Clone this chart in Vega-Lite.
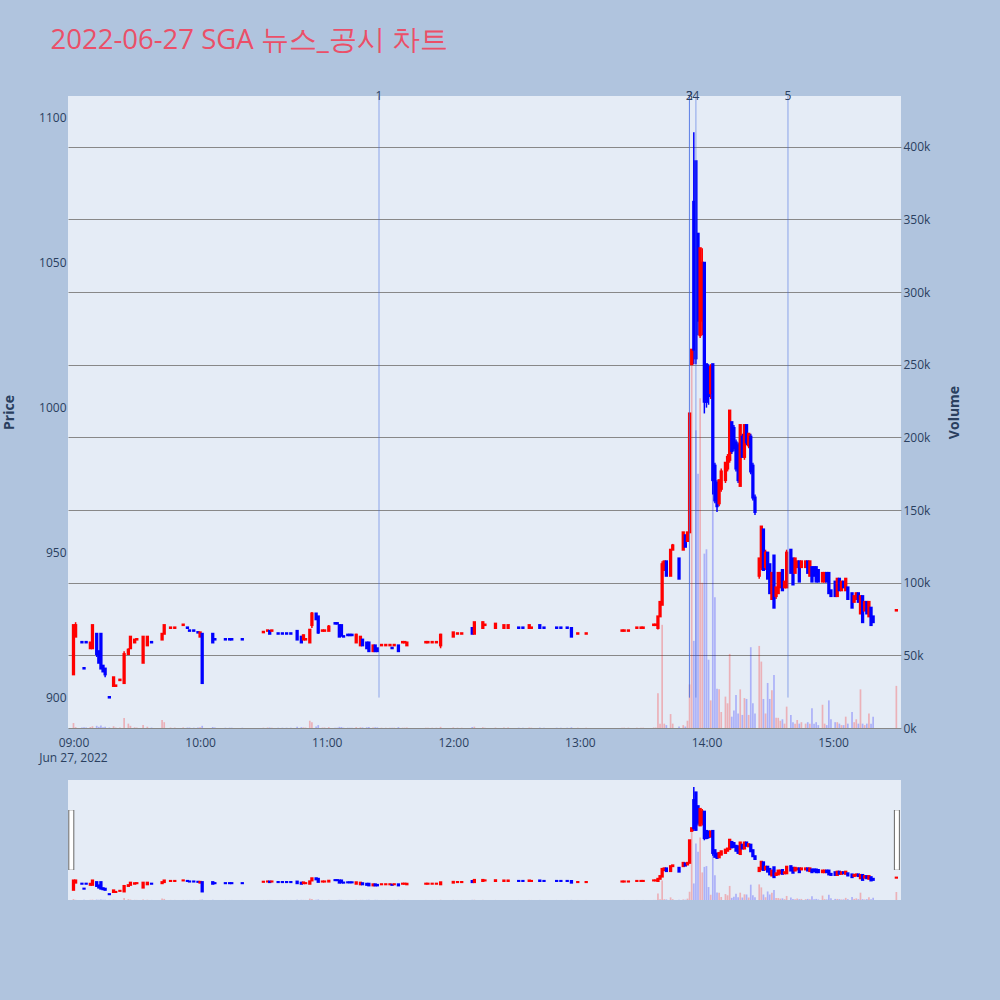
{
"$schema":"https://vega.github.io/schema/vega-lite/v6.json",
"background":"#B0C4DE",
"padding":{"left":2,"top":27,"right":60,"bottom":110},
"title":{"text":"2022-06-27 SGA 뉴스_공시 차트","anchor":"start","font":"Open Sans","fontSize":27.5,"fontWeight":"normal","color":"#EB4F68","offset":35.5,"dx":48},
"config":{"font":"Open Sans","view":{"fill":"#E5ECF6","stroke":null},"text":{"font":"Open Sans"},"axis":{"labelFont":"Open Sans","titleFont":"Open Sans","labelFontSize":12,"labelColor":"#2a3f5f","titleFontSize":14,"titleColor":"#2a3f5f","titleFontWeight":"bold","ticks":false,"domain":false}},
"datasets":{
"candles":[
{"t":"2022-06-27T09:00","o":908,"h":925,"l":908,"c":925,"v":3400},
{"t":"2022-06-27T09:01","o":921,"h":926,"l":921,"c":925,"v":600},
{"t":"2022-06-27T09:04","o":919.2,"h":919.2,"l":919,"c":919,"v":300},
{"t":"2022-06-27T09:05","o":910.2,"h":910.2,"l":910,"c":910,"v":500},
{"t":"2022-06-27T09:06","o":919.2,"h":919.2,"l":919,"c":919,"v":400},
{"t":"2022-06-27T09:08","o":917,"h":919,"l":917,"c":919,"v":700},
{"t":"2022-06-27T09:09","o":917,"h":925,"l":917,"c":925,"v":1200},
{"t":"2022-06-27T09:11","o":922,"h":922,"l":914,"c":915,"v":1500},
{"t":"2022-06-27T09:12","o":916,"h":916,"l":912,"c":912,"v":800},
{"t":"2022-06-27T09:13","o":922,"h":922,"l":910,"c":910,"v":1800},
{"t":"2022-06-27T09:14","o":911,"h":911,"l":909,"c":909,"v":600},
{"t":"2022-06-27T09:15","o":910,"h":910,"l":907,"c":908,"v":900},
{"t":"2022-06-27T09:17","o":900.2,"h":900.2,"l":900,"c":900,"v":300},
{"t":"2022-06-27T09:19","o":904,"h":907,"l":904,"c":907,"v":1200},
{"t":"2022-06-27T09:20","o":904,"h":904.2,"l":904,"c":904.2,"v":300},
{"t":"2022-06-27T09:22","o":906,"h":906.2,"l":906,"c":906.2,"v":400},
{"t":"2022-06-27T09:24","o":905,"h":916,"l":905,"c":915,"v":6900},
{"t":"2022-06-27T09:26","o":915,"h":917,"l":915,"c":916.5,"v":3000},
{"t":"2022-06-27T09:27","o":917,"h":921,"l":917,"c":921,"v":1500},
{"t":"2022-06-27T09:29","o":919,"h":920,"l":919,"c":920,"v":500},
{"t":"2022-06-27T09:30","o":920,"h":920.2,"l":920,"c":920.2,"v":300},
{"t":"2022-06-27T09:33","o":912,"h":921,"l":912,"c":921,"v":2000},
{"t":"2022-06-27T09:35","o":918,"h":921,"l":918,"c":921,"v":900},
{"t":"2022-06-27T09:37","o":919.2,"h":919.2,"l":919,"c":919,"v":300},
{"t":"2022-06-27T09:42","o":920,"h":922,"l":920,"c":922,"v":5500},
{"t":"2022-06-27T09:43","o":922,"h":925,"l":922,"c":925,"v":4000},
{"t":"2022-06-27T09:46","o":924,"h":924.2,"l":924,"c":924.2,"v":300},
{"t":"2022-06-27T09:48","o":924,"h":924.2,"l":924,"c":924.2,"v":300},
{"t":"2022-06-27T09:52","o":925,"h":925.2,"l":925,"c":925.2,"v":400},
{"t":"2022-06-27T09:54","o":924.2,"h":924.2,"l":924,"c":924,"v":300},
{"t":"2022-06-27T09:55","o":923.2,"h":923.2,"l":923,"c":923,"v":300},
{"t":"2022-06-27T09:57","o":923.2,"h":923.2,"l":923,"c":923,"v":200},
{"t":"2022-06-27T09:59","o":922.6,"h":922.6,"l":922.4,"c":922.4,"v":300},
{"t":"2022-06-27T10:00","o":921,"h":922.5,"l":921,"c":922.5,"v":500},
{"t":"2022-06-27T10:01","o":922,"h":922,"l":905,"c":905,"v":1500},
{"t":"2022-06-27T10:06","o":922,"h":922,"l":919,"c":919,"v":700},
{"t":"2022-06-27T10:07","o":920.2,"h":920.2,"l":920,"c":920,"v":300},
{"t":"2022-06-27T10:12","o":920.2,"h":920.2,"l":920,"c":920,"v":200},
{"t":"2022-06-27T10:14","o":920.2,"h":920.2,"l":920,"c":920,"v":200},
{"t":"2022-06-27T10:15","o":920.2,"h":920.2,"l":920,"c":920,"v":200},
{"t":"2022-06-27T10:20","o":920.2,"h":920.2,"l":920,"c":920,"v":200},
{"t":"2022-06-27T10:30","o":922.5,"h":922.7,"l":922.5,"c":922.7,"v":200},
{"t":"2022-06-27T10:32","o":923,"h":923.2,"l":923,"c":923.2,"v":300},
{"t":"2022-06-27T10:33","o":923,"h":923,"l":922,"c":922,"v":300},
{"t":"2022-06-27T10:34","o":923,"h":923.2,"l":923,"c":923.2,"v":200},
{"t":"2022-06-27T10:37","o":922.2,"h":922.2,"l":922,"c":922,"v":200},
{"t":"2022-06-27T10:39","o":922.2,"h":922.2,"l":922,"c":922,"v":200},
{"t":"2022-06-27T10:41","o":922.2,"h":922.2,"l":922,"c":922,"v":200},
{"t":"2022-06-27T10:43","o":922.2,"h":922.2,"l":922,"c":922,"v":200},
{"t":"2022-06-27T10:46","o":923,"h":923,"l":920,"c":920,"v":800},
{"t":"2022-06-27T10:48","o":921,"h":921,"l":919,"c":919,"v":600},
{"t":"2022-06-27T10:49","o":920,"h":921.7,"l":920,"c":921.5,"v":400},
{"t":"2022-06-27T10:50","o":920,"h":920.2,"l":920,"c":920.2,"v":300},
{"t":"2022-06-27T10:52","o":919,"h":923.4,"l":919,"c":923.4,"v":5000},
{"t":"2022-06-27T10:53","o":925,"h":929.5,"l":924,"c":929,"v":4000},
{"t":"2022-06-27T10:55","o":929,"h":929,"l":927,"c":927,"v":1000},
{"t":"2022-06-27T10:56","o":928,"h":928,"l":922,"c":922.4,"v":2000},
{"t":"2022-06-27T10:58","o":923,"h":923.2,"l":923,"c":923.2,"v":300},
{"t":"2022-06-27T10:59","o":923,"h":923.2,"l":923,"c":923.2,"v":300},
{"t":"2022-06-27T11:01","o":923,"h":925,"l":923,"c":924.5,"v":600},
{"t":"2022-06-27T11:04","o":925.7,"h":925.7,"l":925.5,"c":925.5,"v":200},
{"t":"2022-06-27T11:05","o":925.7,"h":925.7,"l":925.5,"c":925.5,"v":200},
{"t":"2022-06-27T11:06","o":925,"h":925,"l":921,"c":921,"v":800},
{"t":"2022-06-27T11:07","o":925,"h":925,"l":921,"c":921.5,"v":700},
{"t":"2022-06-27T11:08","o":921.2,"h":921.2,"l":921,"c":921,"v":200},
{"t":"2022-06-27T11:10","o":921.7,"h":921.7,"l":921.5,"c":921.5,"v":200},
{"t":"2022-06-27T11:11","o":921.7,"h":921.7,"l":921.5,"c":921.5,"v":200},
{"t":"2022-06-27T11:12","o":921.7,"h":921.7,"l":921.5,"c":921.5,"v":200},
{"t":"2022-06-27T11:14","o":919,"h":922,"l":919,"c":921.7,"v":600},
{"t":"2022-06-27T11:16","o":918,"h":921,"l":918,"c":921,"v":500},
{"t":"2022-06-27T11:17","o":920,"h":920,"l":918,"c":918,"v":400},
{"t":"2022-06-27T11:19","o":919,"h":919,"l":917,"c":917,"v":500},
{"t":"2022-06-27T11:20","o":919,"h":919,"l":916,"c":916,"v":700},
{"t":"2022-06-27T11:22","o":916,"h":918,"l":916,"c":918,"v":400},
{"t":"2022-06-27T11:23","o":918,"h":918,"l":916,"c":916,"v":500},
{"t":"2022-06-27T11:24","o":917,"h":917,"l":916,"c":916,"v":400},
{"t":"2022-06-27T11:26","o":918,"h":918.2,"l":918,"c":918.2,"v":200},
{"t":"2022-06-27T11:28","o":918,"h":918.2,"l":918,"c":918.2,"v":200},
{"t":"2022-06-27T11:30","o":918,"h":918.2,"l":918,"c":918.2,"v":200},
{"t":"2022-06-27T11:31","o":917.2,"h":917.2,"l":917,"c":917,"v":200},
{"t":"2022-06-27T11:32","o":918,"h":918.2,"l":918,"c":918.2,"v":200},
{"t":"2022-06-27T11:34","o":918,"h":918,"l":916,"c":916,"v":600},
{"t":"2022-06-27T11:36","o":919,"h":919.2,"l":919,"c":919.2,"v":200},
{"t":"2022-06-27T11:37","o":919,"h":919.2,"l":919,"c":919.2,"v":200},
{"t":"2022-06-27T11:38","o":918,"h":919,"l":918,"c":919,"v":300},
{"t":"2022-06-27T11:47","o":919,"h":919.2,"l":919,"c":919.2,"v":200},
{"t":"2022-06-27T11:48","o":919,"h":919.2,"l":919,"c":919.2,"v":200},
{"t":"2022-06-27T11:50","o":919,"h":919.2,"l":919,"c":919.2,"v":200},
{"t":"2022-06-27T11:52","o":919,"h":919.2,"l":919,"c":919.2,"v":200},
{"t":"2022-06-27T11:54","o":918,"h":922,"l":917,"c":921.7,"v":800},
{"t":"2022-06-27T12:00","o":921,"h":922.5,"l":921,"c":922.5,"v":400},
{"t":"2022-06-27T12:02","o":922,"h":922.2,"l":922,"c":922.2,"v":200},
{"t":"2022-06-27T12:04","o":922,"h":922.2,"l":922,"c":922.2,"v":200},
{"t":"2022-06-27T12:09","o":924,"h":924,"l":922,"c":922,"v":700},
{"t":"2022-06-27T12:10","o":922,"h":926,"l":922,"c":926,"v":900},
{"t":"2022-06-27T12:14","o":924,"h":926.2,"l":924,"c":926,"v":500},
{"t":"2022-06-27T12:15","o":925,"h":925.2,"l":925,"c":925.2,"v":200},
{"t":"2022-06-27T12:20","o":924,"h":925.5,"l":924,"c":925.5,"v":300},
{"t":"2022-06-27T12:24","o":924,"h":925,"l":924,"c":925,"v":300},
{"t":"2022-06-27T12:26","o":924,"h":925,"l":924,"c":925,"v":300},
{"t":"2022-06-27T12:31","o":924.2,"h":924.2,"l":924,"c":924,"v":200},
{"t":"2022-06-27T12:33","o":924.2,"h":924.2,"l":924,"c":924,"v":200},
{"t":"2022-06-27T12:36","o":924,"h":925,"l":924,"c":925,"v":300},
{"t":"2022-06-27T12:37","o":924,"h":924.2,"l":924,"c":924.2,"v":200},
{"t":"2022-06-27T12:41","o":925,"h":925,"l":924,"c":924,"v":300},
{"t":"2022-06-27T12:43","o":924.2,"h":924.2,"l":924,"c":924,"v":200},
{"t":"2022-06-27T12:49","o":924.2,"h":924.2,"l":924,"c":924,"v":200},
{"t":"2022-06-27T12:51","o":924.2,"h":924.2,"l":924,"c":924,"v":200},
{"t":"2022-06-27T12:54","o":924.2,"h":924.2,"l":924,"c":924,"v":200},
{"t":"2022-06-27T12:56","o":924,"h":924,"l":921,"c":921,"v":500},
{"t":"2022-06-27T12:59","o":922,"h":922.2,"l":922,"c":922.2,"v":200},
{"t":"2022-06-27T13:03","o":922,"h":922.2,"l":922,"c":922.2,"v":200},
{"t":"2022-06-27T13:20","o":923,"h":923.2,"l":923,"c":923.2,"v":200},
{"t":"2022-06-27T13:21","o":923,"h":923.2,"l":923,"c":923.2,"v":200},
{"t":"2022-06-27T13:23","o":923,"h":923.2,"l":923,"c":923.2,"v":200},
{"t":"2022-06-27T13:27","o":924,"h":924.2,"l":924,"c":924.2,"v":200},
{"t":"2022-06-27T13:29","o":924,"h":924.2,"l":924,"c":924.2,"v":200},
{"t":"2022-06-27T13:30","o":924,"h":924.2,"l":924,"c":924.2,"v":200},
{"t":"2022-06-27T13:35","o":925,"h":925.2,"l":925,"c":925.2,"v":300},
{"t":"2022-06-27T13:36","o":925,"h":925.2,"l":925,"c":925.2,"v":300},
{"t":"2022-06-27T13:37","o":924,"h":928,"l":923.5,"c":928,"v":24000},
{"t":"2022-06-27T13:38","o":928,"h":933,"l":928,"c":933,"v":3000},
{"t":"2022-06-27T13:39","o":932,"h":947,"l":932,"c":946,"v":71000},
{"t":"2022-06-27T13:40","o":944,"h":947,"l":944,"c":947,"v":3000},
{"t":"2022-06-27T13:41","o":947,"h":947,"l":942,"c":942,"v":2000},
{"t":"2022-06-27T13:43","o":942,"h":951,"l":942,"c":951,"v":9600},
{"t":"2022-06-27T13:44","o":951,"h":953,"l":951,"c":952.5,"v":3000},
{"t":"2022-06-27T13:47","o":948,"h":948,"l":941,"c":941,"v":1000},
{"t":"2022-06-27T13:49","o":951,"h":957,"l":951,"c":957,"v":2000},
{"t":"2022-06-27T13:50","o":956,"h":956,"l":952,"c":952,"v":1000},
{"t":"2022-06-27T13:51","o":954,"h":957,"l":954,"c":957,"v":5000},
{"t":"2022-06-27T13:52","o":957,"h":998,"l":957,"c":998,"v":30000},
{"t":"2022-06-27T13:53","o":1015,"h":1020,"l":1015,"c":1020,"v":252000},
{"t":"2022-06-27T13:54","o":1071,"h":1095,"l":1015,"c":1020,"v":60000},
{"t":"2022-06-27T13:55","o":1085,"h":1085,"l":1015,"c":1017,"v":205000},
{"t":"2022-06-27T13:56","o":1060,"h":1060,"l":1025,"c":1030,"v":175000},
{"t":"2022-06-27T13:57","o":1025,"h":1055,"l":1024,"c":1055,"v":227000},
{"t":"2022-06-27T13:58","o":1030,"h":1055,"l":1025,"c":1050,"v":100000},
{"t":"2022-06-27T13:59","o":1050,"h":1050,"l":998,"c":1002,"v":120000},
{"t":"2022-06-27T14:00","o":1015,"h":1015,"l":1000,"c":1002,"v":123000},
{"t":"2022-06-27T14:01","o":1014,"h":1015,"l":1001,"c":1004,"v":47000},
{"t":"2022-06-27T14:02","o":1005,"h":1015,"l":1003,"c":1014,"v":19000},
{"t":"2022-06-27T14:03","o":1015,"h":1015,"l":970,"c":975,"v":180000},
{"t":"2022-06-27T14:04","o":980,"h":981,"l":967,"c":968,"v":90000},
{"t":"2022-06-27T14:05","o":974,"h":975,"l":964,"c":966,"v":27000},
{"t":"2022-06-27T14:06","o":967,"h":975,"l":966,"c":975,"v":26600},
{"t":"2022-06-27T14:07","o":972,"h":979,"l":971,"c":978,"v":11000},
{"t":"2022-06-27T14:09","o":975,"h":981,"l":974,"c":981,"v":21600},
{"t":"2022-06-27T14:10","o":979,"h":984,"l":978,"c":983,"v":17000},
{"t":"2022-06-27T14:11","o":982,"h":999,"l":981,"c":999,"v":51000},
{"t":"2022-06-27T14:12","o":995,"h":995,"l":984,"c":985,"v":7800},
{"t":"2022-06-27T14:13","o":993,"h":994,"l":985,"c":986,"v":12000},
{"t":"2022-06-27T14:14","o":988,"h":989,"l":978,"c":979,"v":22700},
{"t":"2022-06-27T14:15","o":987,"h":988,"l":974,"c":975,"v":10000},
{"t":"2022-06-27T14:16","o":973,"h":994,"l":973,"c":994,"v":26600},
{"t":"2022-06-27T14:17","o":990,"h":991,"l":983,"c":983,"v":9000},
{"t":"2022-06-27T14:18","o":983,"h":994,"l":982,"c":994,"v":20600},
{"t":"2022-06-27T14:19","o":994,"h":994,"l":987,"c":988,"v":20000},
{"t":"2022-06-27T14:20","o":987,"h":991,"l":986,"c":991,"v":9000},
{"t":"2022-06-27T14:21","o":990,"h":991,"l":977,"c":978,"v":55600},
{"t":"2022-06-27T14:22","o":980,"h":981,"l":968,"c":969,"v":17000},
{"t":"2022-06-27T14:23","o":969,"h":970,"l":963,"c":964,"v":10000},
{"t":"2022-06-27T14:25","o":942,"h":948,"l":941,"c":948,"v":56500},
{"t":"2022-06-27T14:26","o":945,"h":959,"l":944,"c":959,"v":45700},
{"t":"2022-06-27T14:27","o":958,"h":958,"l":944,"c":944,"v":20000},
{"t":"2022-06-27T14:28","o":945,"h":951,"l":944,"c":950,"v":10000},
{"t":"2022-06-27T14:29","o":950,"h":950,"l":941,"c":941,"v":31000},
{"t":"2022-06-27T14:30","o":946,"h":946,"l":936,"c":936,"v":20000},
{"t":"2022-06-27T14:31","o":934,"h":943,"l":934,"c":943,"v":26000},
{"t":"2022-06-27T14:32","o":949,"h":949,"l":931,"c":931,"v":36500},
{"t":"2022-06-27T14:33","o":935,"h":938,"l":934,"c":938,"v":7000},
{"t":"2022-06-27T14:34","o":936,"h":943,"l":936,"c":943,"v":7000},
{"t":"2022-06-27T14:35","o":938,"h":943,"l":938,"c":943,"v":5000},
{"t":"2022-06-27T14:36","o":944,"h":944,"l":937,"c":937,"v":6000},
{"t":"2022-06-27T14:37","o":938,"h":940,"l":938,"c":940,"v":3000},
{"t":"2022-06-27T14:38","o":938,"h":951,"l":938,"c":950,"v":14700},
{"t":"2022-06-27T14:40","o":951,"h":951,"l":943,"c":943,"v":9000},
{"t":"2022-06-27T14:41","o":948,"h":948,"l":939,"c":939,"v":4000},
{"t":"2022-06-27T14:42","o":943,"h":948,"l":943,"c":948,"v":3000},
{"t":"2022-06-27T14:43","o":945,"h":947,"l":945,"c":947,"v":5500},
{"t":"2022-06-27T14:44","o":947,"h":947,"l":940,"c":940,"v":3000},
{"t":"2022-06-27T14:45","o":945,"h":947,"l":945,"c":947,"v":4000},
{"t":"2022-06-27T14:47","o":945,"h":947,"l":945,"c":947,"v":3000},
{"t":"2022-06-27T14:48","o":947,"h":947,"l":943,"c":943,"v":4000},
{"t":"2022-06-27T14:49","o":942,"h":947,"l":942,"c":947,"v":3000},
{"t":"2022-06-27T14:50","o":945,"h":945,"l":940,"c":940,"v":13600},
{"t":"2022-06-27T14:51","o":945,"h":945,"l":942,"c":942,"v":3000},
{"t":"2022-06-27T14:52","o":945,"h":945,"l":940,"c":940,"v":4000},
{"t":"2022-06-27T14:53","o":944,"h":944,"l":940,"c":940,"v":2000},
{"t":"2022-06-27T14:55","o":940,"h":943,"l":940,"c":943,"v":16000},
{"t":"2022-06-27T14:56","o":940,"h":943,"l":940,"c":943,"v":3000},
{"t":"2022-06-27T14:57","o":943,"h":943,"l":940,"c":940,"v":2000},
{"t":"2022-06-27T14:58","o":943,"h":943,"l":936,"c":936,"v":19000},
{"t":"2022-06-27T14:59","o":937,"h":937,"l":935,"c":935,"v":6000},
{"t":"2022-06-27T15:01","o":940,"h":940,"l":935,"c":935,"v":4000},
{"t":"2022-06-27T15:02","o":935,"h":941,"l":935,"c":941,"v":4000},
{"t":"2022-06-27T15:03","o":941,"h":941,"l":937,"c":937,"v":3000},
{"t":"2022-06-27T15:04","o":937,"h":940,"l":937,"c":940,"v":2000},
{"t":"2022-06-27T15:05","o":940,"h":940,"l":938,"c":938,"v":2000},
{"t":"2022-06-27T15:06","o":937,"h":941,"l":937,"c":941,"v":7800},
{"t":"2022-06-27T15:07","o":938,"h":938,"l":934,"c":934,"v":3000},
{"t":"2022-06-27T15:09","o":936,"h":936,"l":931,"c":931,"v":11000},
{"t":"2022-06-27T15:10","o":933,"h":935,"l":933,"c":935,"v":4000},
{"t":"2022-06-27T15:11","o":934,"h":936,"l":934,"c":936,"v":6000},
{"t":"2022-06-27T15:12","o":936,"h":936,"l":933,"c":933,"v":3000},
{"t":"2022-06-27T15:13","o":929,"h":935,"l":929,"c":935,"v":26600},
{"t":"2022-06-27T15:14","o":935,"h":935,"l":926,"c":926,"v":3000},
{"t":"2022-06-27T15:15","o":930,"h":933,"l":930,"c":933,"v":2000},
{"t":"2022-06-27T15:16","o":933,"h":933,"l":929,"c":929,"v":3000},
{"t":"2022-06-27T15:17","o":928,"h":933,"l":928,"c":933,"v":10000},
{"t":"2022-06-27T15:18","o":931,"h":931,"l":925,"c":925,"v":3000},
{"t":"2022-06-27T15:19","o":928,"h":928,"l":926,"c":926,"v":7800},
{"t":"2022-06-27T15:30","o":930,"h":930.2,"l":930,"c":930.2,"v":29000}
],
"events":[
{"t":"2022-06-27T11:24:48","label":"1"},
{"t":"2022-06-27T13:51:56","label":"2"},
{"t":"2022-06-27T13:51:56","label":"3"},
{"t":"2022-06-27T13:55:00","label":"4"},
{"t":"2022-06-27T14:38:38","label":"5"}
],
"datelabel":[{"t":"2022-06-27T09:00","label":"Jun 27, 2022"}],
"handles":[{"t":"2022-06-27T08:58:58"},{"t":"2022-06-27T15:30:15"}]
},
"vconcat":[
{
"width":833,"height":632,
"data":{"name":"candles"},
"layer":[
{"mark":{"type":"bar","size":1.7,"opacity":0.25},
"encoding":{
"x":{"field":"t","type":"temporal","scale":{"nice":false,"padding":0,"domain":[{"year":2022,"month":6,"date":27,"hours":8,"minutes":57,"seconds":24},{"year":2022,"month":6,"date":27,"hours":15,"minutes":32,"seconds":12}]},
"axis":{"title":null,"grid":false,"format":"%H:%M","tickCount":7,"labelPadding":9,"labelFlush":false}},
"y":{"field":"v","type":"quantitative","scale":{"domain":[0,435000],"nice":false},
"axis":{"orient":"right","title":"Volume","values":[0,50000,100000,150000,200000,250000,300000,350000,400000],"format":"~s","gridColor":"#888888","gridWidth":1.2,"labelPadding":2,"titlePadding":32,"titleAngle":270}},
"color":{"condition":{"test":"datum.c >= datum.o","value":"#FF0000"},"value":"#0000FF"}
}},
{"layer":[
{"mark":{"type":"rule","strokeWidth":1.5},
"encoding":{
"x":{"field":"t","type":"temporal"},
"y":{"field":"l","type":"quantitative","scale":{"domain":[889.5,1107.5],"nice":false,"zero":false},
"axis":{"title":"Price","values":[900,950,1000,1050,1100],"format":"d","gridColor":"#FFFFFF","gridWidth":1,"labelPadding":2,"titlePadding":22}},
"y2":{"field":"h"},
"color":{"condition":{"test":"datum.c >= datum.o","value":"#FF0000"},"value":"#0000FF"}
}},
{"mark":{"type":"bar","size":1.3,"strokeWidth":2},
"encoding":{
"x":{"field":"t","type":"temporal"},
"y":{"field":"o","type":"quantitative"},
"y2":{"field":"c"},
"color":{"condition":{"test":"datum.c >= datum.o","value":"#FF0000"},"value":"#0000FF"},
"stroke":{"condition":{"test":"datum.c >= datum.o","value":"#FF0000"},"value":"#0000FF"}
}},
{"data":{"name":"events"},
"mark":{"type":"rule","color":"royalblue","opacity":0.55,"strokeWidth":1},
"encoding":{"x":{"field":"t","type":"temporal"},"y":{"datum":900},"y2":{"datum":1107.5}}},
{"data":{"name":"events"},
"mark":{"type":"text","baseline":"middle","fontSize":12,"color":"#2a3f5f"},
"encoding":{"x":{"field":"t","type":"temporal"},"y":{"datum":1107.5},"text":{"field":"label"}}},
{"data":{"name":"datelabel"},
"mark":{"type":"text","baseline":"middle","fontSize":12,"color":"#2a3f5f","dy":30},
"encoding":{"x":{"field":"t","type":"temporal"},"y":{"datum":889.5},"text":{"field":"label"}}}
]}
],
"resolve":{"scale":{"y":"independent"}}
},
{
"width":833,"height":120,
"data":{"name":"candles"},
"layer":[
{"mark":{"type":"bar","size":1.7,"opacity":0.25},
"encoding":{
"x":{"field":"t","type":"temporal","scale":{"nice":false,"padding":0,"domain":[{"year":2022,"month":6,"date":27,"hours":8,"minutes":57,"seconds":24},{"year":2022,"month":6,"date":27,"hours":15,"minutes":32,"seconds":12}]},"axis":null},
"y":{"field":"v","type":"quantitative","scale":{"domain":[0,435000],"nice":false},"axis":null},
"color":{"condition":{"test":"datum.c >= datum.o","value":"#FF0000"},"value":"#0000FF"}
}},
{"layer":[
{"mark":{"type":"rule","strokeWidth":1.5},
"encoding":{
"x":{"field":"t","type":"temporal"},
"y":{"field":"l","type":"quantitative","scale":{"domain":[889.5,1107.5],"nice":false,"zero":false},"axis":null},
"y2":{"field":"h"},
"color":{"condition":{"test":"datum.c >= datum.o","value":"#FF0000"},"value":"#0000FF"}
}},
{"mark":{"type":"bar","size":1.3,"strokeWidth":2},
"encoding":{
"x":{"field":"t","type":"temporal"},
"y":{"field":"o","type":"quantitative"},
"y2":{"field":"c"},
"color":{"condition":{"test":"datum.c >= datum.o","value":"#FF0000"},"value":"#0000FF"},
"stroke":{"condition":{"test":"datum.c >= datum.o","value":"#FF0000"},"value":"#0000FF"}
}},
{"data":{"name":"handles"},
"mark":{"type":"rule","strokeWidth":6,"color":"#666666"},
"encoding":{"x":{"field":"t","type":"temporal"},"y":{"datum":944},"y2":{"datum":1053}}},
{"data":{"name":"handles"},
"mark":{"type":"rule","strokeWidth":4,"color":"#FFFFFF"},
"encoding":{"x":{"field":"t","type":"temporal"},"y":{"datum":944.5},"y2":{"datum":1052.5}}}
]}
],
"resolve":{"scale":{"y":"independent"}}
}
],
"spacing":16,
"resolve":{"scale":{"x":"independent"}}
}
